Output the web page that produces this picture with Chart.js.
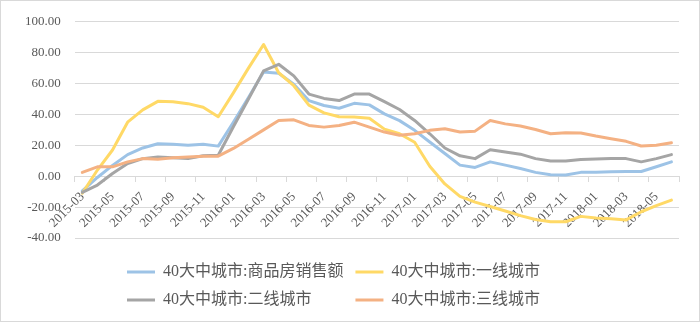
<!DOCTYPE html>
<html>
<head>
<meta charset="utf-8">
<script src="https://cdn.jsdelivr.net/npm/chart.js@4.4.1/dist/chart.umd.min.js"></script>
<style>
html,body{margin:0;padding:0;background:#fff;}
#wrap{width:700px;height:322px;position:relative;}
</style>
</head>
<body>
<div id="wrap"><canvas id="c" width="700" height="322"></canvas></div>
<script>
const categories = [
  '2015-03','2015-04','2015-05','2015-06','2015-07','2015-08','2015-09','2015-10','2015-11','2015-12',
  '2016-01','2016-02','2016-03','2016-04','2016-05','2016-06','2016-07','2016-08','2016-09','2016-10',
  '2016-11','2016-12','2017-01','2017-02','2017-03','2017-04','2017-05','2017-06','2017-07','2017-08',
  '2017-09','2017-10','2017-11','2017-12','2018-01','2018-02','2018-03','2018-04','2018-05','2018-06'
];
const seriesNames = ['40大中城市:商品房销售额', '40大中城市:一线城市', '40大中城市:二线城市', '40大中城市:三线城市'];
const totalSales = [-9.5, -0.8, 7, 14, 18.3, 21, 20.7, 20, 20.7, 19.5,
  35, 51, 67.5, 66.7, 59.6, 49, 45.8, 44, 47.2, 46.2,
  40.4, 36, 29.7, 22.2, 14.7, 7.2, 5.7, 9.3, 7.2, 5,
  2.5, 1, 0.8, 2.5, 2.6, 2.9, 3, 3.1, 6.1, 9.3];
const tier1 = [-11, 4, 17, 35, 43, 48.5, 48.3, 47, 44.7, 38.5,
  54, 70, 85.3, 67, 58.6, 46, 41, 38.5, 38.3, 37.5,
  30.5, 27.5, 22, 6.5, -5, -13, -16.8, -19.6, -22.5, -25.5,
  -28, -29.5, -29.5, -26, -27, -27.5, -28.3, -23, -19, -15.5];
const tier2 = [-10.5, -5.7, 1.8, 8.2, 11.4, 12.5, 11.9, 11.4, 13.2, 13.6,
  32, 50, 68.2, 72.5, 65, 53.2, 50.4, 49, 53.2, 53.2,
  48.3, 43.2, 36.1, 27.5, 18.3, 13.2, 11.4, 17.2, 15.7, 14.3,
  11.4, 9.8, 9.8, 10.8, 11.1, 11.4, 11.4, 9.3, 11.4, 14];
const tier3 = [2.5, 6.1, 6.1, 9.3, 11.4, 11, 11.9, 12.5, 13, 13,
  18, 24, 30, 36.1, 36.5, 32.9, 31.8, 32.9, 35, 31.8,
  28.6, 26.5, 27.5, 29.7, 30.7, 28.6, 29.2, 36.1, 33.9, 32.5,
  30.3, 27.5, 28.1, 28, 26, 24.3, 22.6, 19.6, 20, 21.7];
const yMin = -40, yMax = 100, yStep = 20;
const colors = ['#9dc3e6', '#ffd966', '#a5a5a5', '#f4b183'];

const TEXT = '#595959';
const GRID = '#d9d9d9';
const LEGEND_X = 127;
const LEGEND_DROP = 14;

const legendPlace = {
  id: 'legendPlace',
  afterLayout(chart) {
    const lg = chart.legend;
    if (!lg || !lg.lineWidths) return;
    const pad = lg.options.labels.padding;
    const start = (lg.left + pad + lg.right - lg.lineWidths[0]) / 2;
    const dx = LEGEND_X - start;
    lg.left += dx; lg.right += dx;
    lg.top += LEGEND_DROP; lg.bottom += LEGEND_DROP;
  }
};
const frame = {
  id: 'frame',
  beforeDraw(chart) {
    const c = chart.ctx;
    c.save();
    c.fillStyle = '#fff';
    c.fillRect(0, 0, chart.width, chart.height);
    c.strokeStyle = GRID;
    c.lineWidth = 1;
    c.strokeRect(0.5, 0.5, chart.width - 1, chart.height - 1);
    c.restore();
  }
};

const maxLen = Math.max(...seriesNames.map(s => s.length));
const series = [totalSales, tier1, tier2, tier3];
const datasets = series.map((d, i) => ({
  label: seriesNames[i],
  data: d,
  borderColor: colors[i],
  backgroundColor: colors[i],
  borderWidth: 3,
  pointRadius: 0,
  tension: 0,
  borderJoinStyle: 'round',
  borderCapStyle: 'round',
  order: 4 - i
}));

const tickEvery2 = (ctx) => (ctx.index === undefined || ctx.index % 2 === 0) ? GRID : 'rgba(0,0,0,0)';

new Chart(document.getElementById('c'), {
  type: 'line',
  data: { labels: categories, datasets },
  options: {
    responsive: false,
    animation: false,
    devicePixelRatio: 1,
    layout: { padding: { left: 11, right: 21, top: 17, bottom: 18 } },
    plugins: {
      tooltip: { enabled: false },
      legend: {
        position: 'bottom',
        labels: {
          boxWidth: 28,
          boxHeight: 3,
          padding: 12,
          color: TEXT,
          font: { family: "'Liberation Serif','Noto Sans CJK SC'", size: 16 },
          sort: (a, b) => a.datasetIndex - b.datasetIndex,
          generateLabels(chart) {
            const items = Chart.defaults.plugins.legend.labels.generateLabels(chart);
            items.forEach(it => {
              it.lineWidth = 0;
              it.text = it.text + '\u3000'.repeat(maxLen - it.text.length);
            });
            return items;
          }
        }
      }
    },
    scales: {
      x: {
        type: 'category',
        offset: true,
        position: { y: 0 },
        grid: { offset: true, drawOnChartArea: false, drawTicks: true, tickLength: 5, color: tickEvery2, tickColor: tickEvery2 },
        border: { display: true, color: GRID, width: 1 },
        ticks: {
          autoSkip: false, maxRotation: 45, minRotation: 45, padding: 8,
          color: TEXT,
          font: { family: "'Liberation Serif'", size: 13 },
          callback: (v, i) => (i % 2 === 0 ? categories[i] : '')
        }
      },
      y: {
        min: yMin, max: yMax,
        grid: { color: GRID, drawTicks: false },
        border: { display: false },
        ticks: {
          stepSize: yStep, padding: 14, color: TEXT,
          font: { family: "'Liberation Serif'", size: 13 },
          callback: v => Number(v).toFixed(2)
        }
      }
    }
  },
  plugins: [legendPlace, frame]
});
</script>
</body>
</html>
